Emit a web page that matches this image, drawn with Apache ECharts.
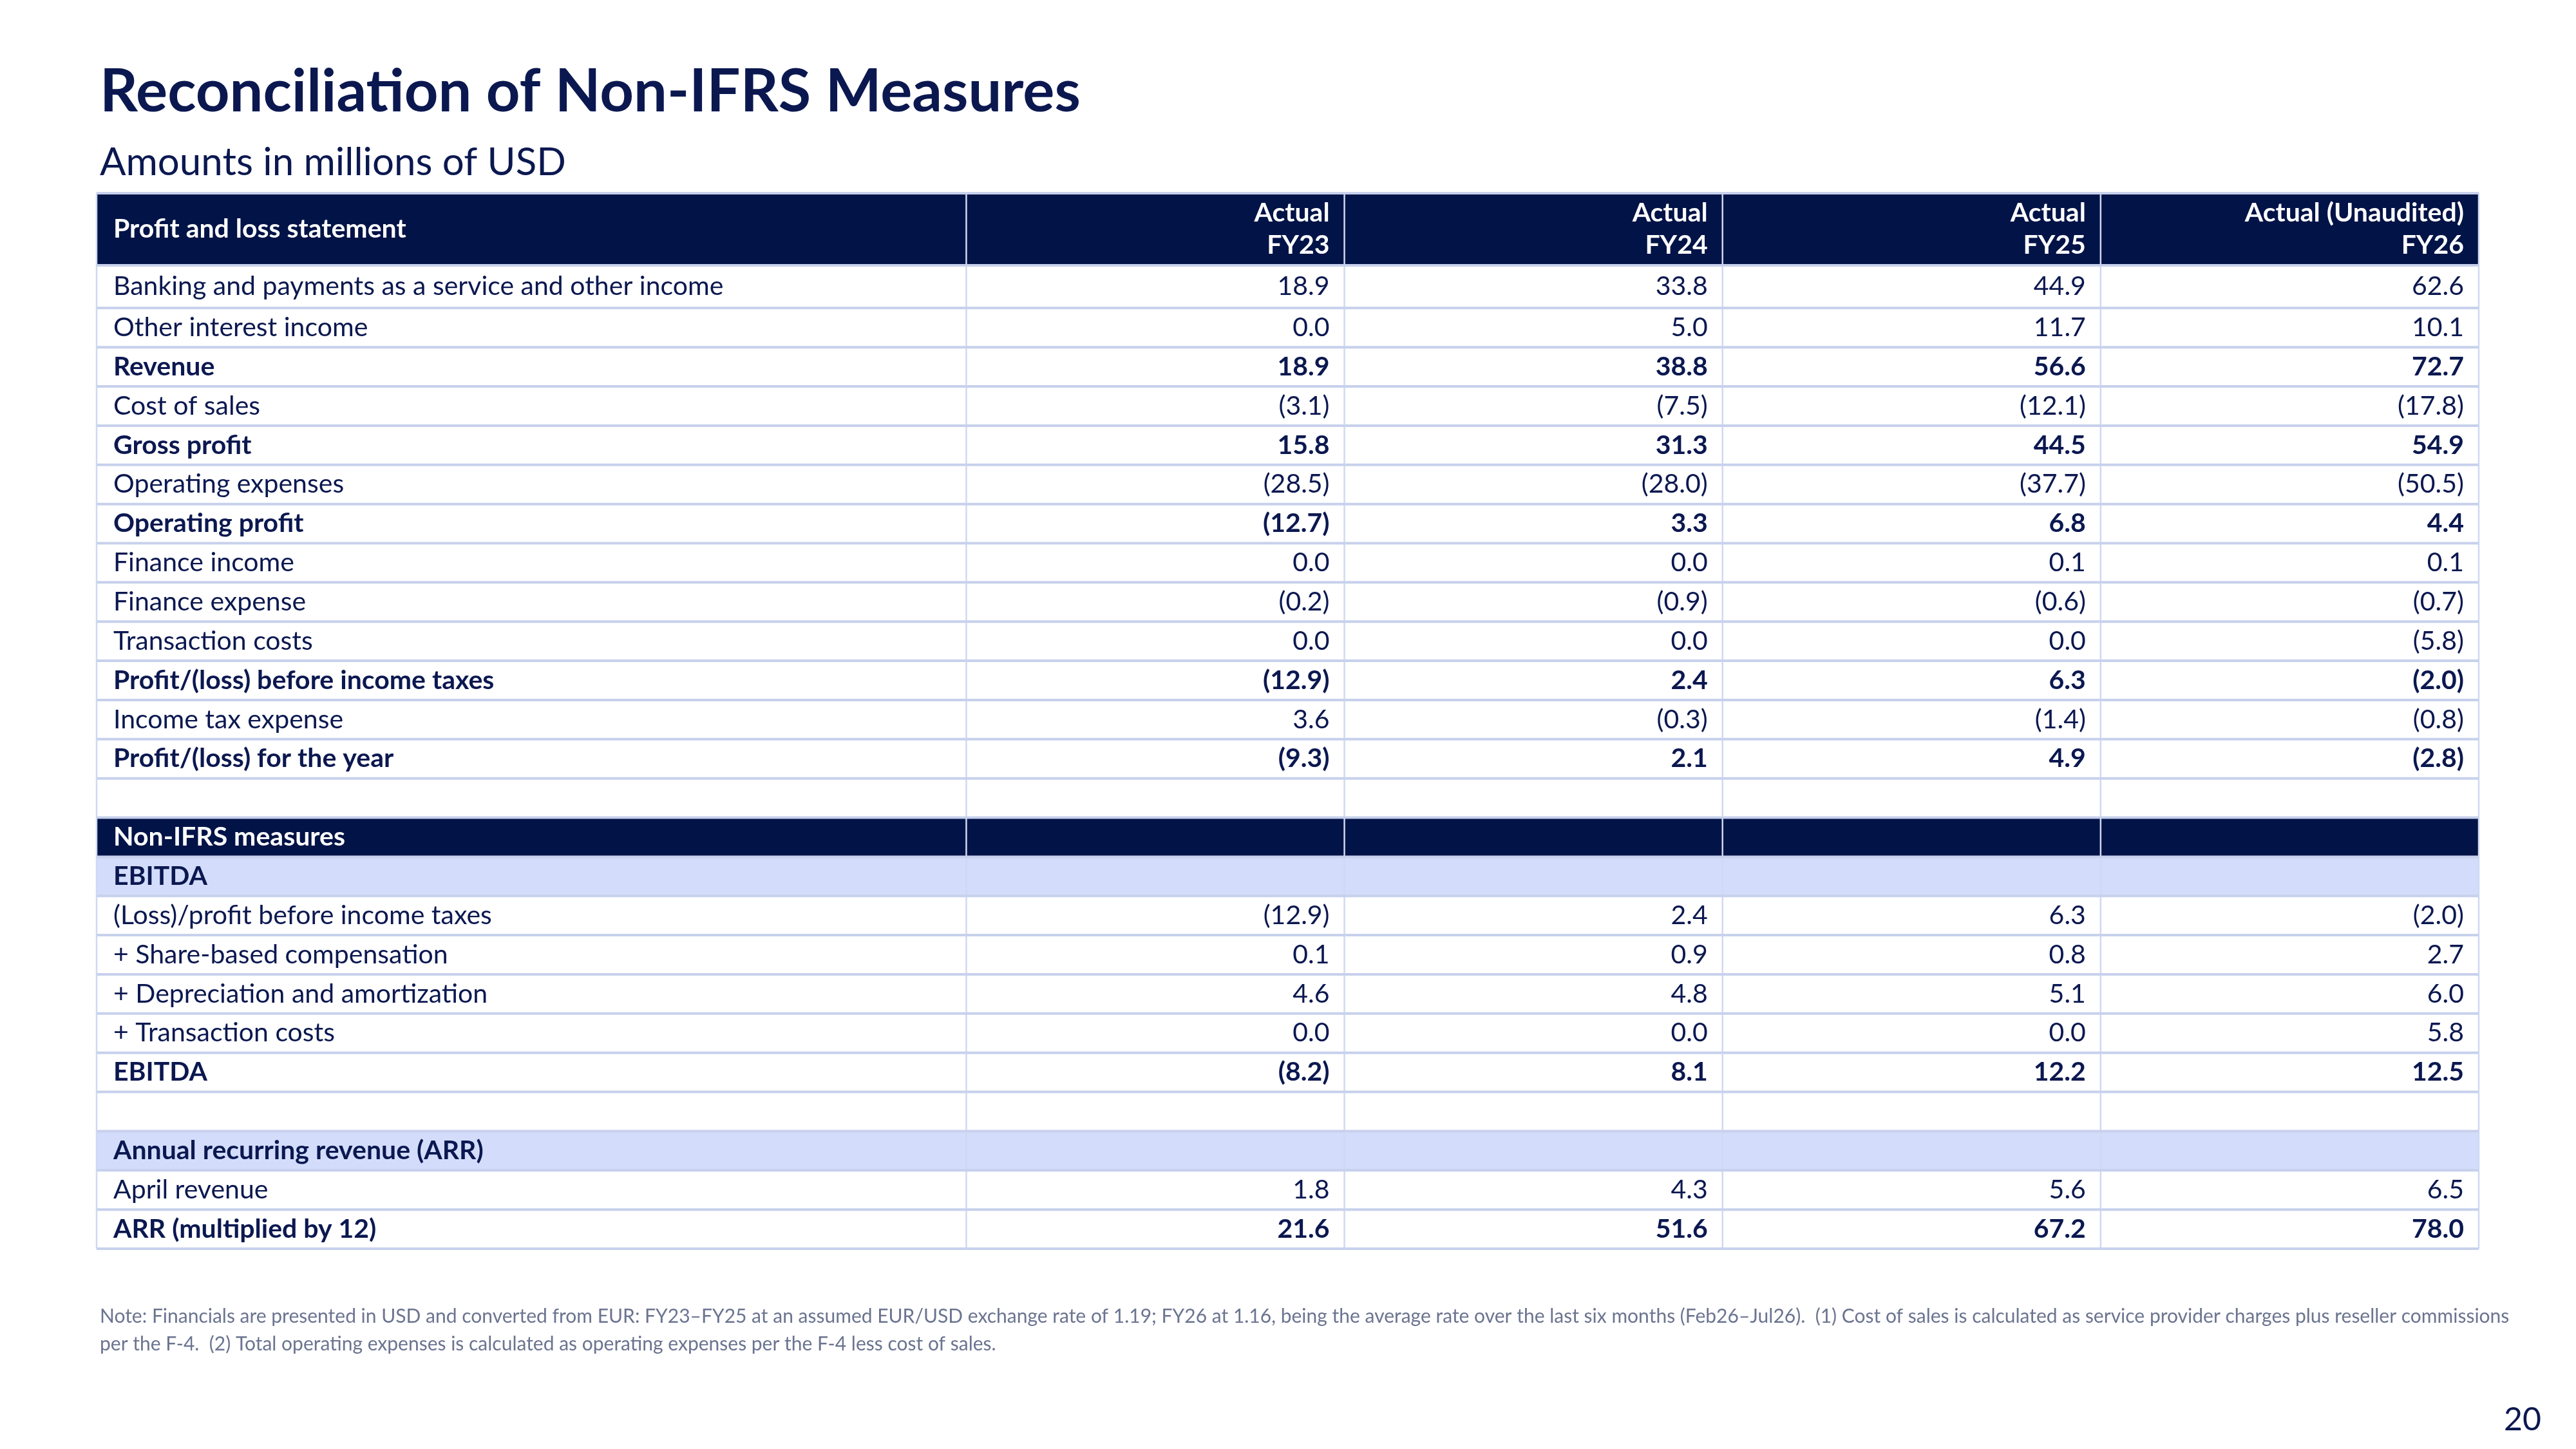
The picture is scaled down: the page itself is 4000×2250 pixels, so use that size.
<!DOCTYPE html>
<html>
<head>
<meta charset="utf-8">
<script src="https://cdn.jsdelivr.net/npm/echarts@6/dist/echarts.min.js"></script>
<style>
  html, body { margin: 0; padding: 0; background: #fff; }
  #main { width: 4000px; height: 2250px; }
</style>
</head>
<body>
<div id="main"></div>
<script>
// table content
var headLabel = 'Profit and loss statement';
var columnHeads = ['Actual\nFY23', 'Actual\nFY24', 'Actual\nFY25', 'Actual (Unaudited)\nFY26'];
var rowLabels = [
  'Banking and payments as a service and other income',
  'Other interest income',
  'Revenue',
  'Cost of sales',
  'Gross profit',
  'Operating expenses',
  'Operating profit',
  'Finance income',
  'Finance expense',
  'Transaction costs',
  'Profit/(loss) before income taxes',
  'Income tax expense',
  'Profit/(loss) for the year',
  '',
  'Non-IFRS measures',
  'EBITDA',
  '(Loss)/profit before income taxes',
  '+ Share-based compensation',
  '+ Depreciation and amortization',
  '+ Transaction costs',
  'EBITDA',
  '',
  'Annual recurring revenue (ARR)',
  'April revenue',
  'ARR (multiplied by 12)'
];
// item / total / blank / section / group
var rowKinds = [
  'item', 'item', 'total', 'item', 'total', 'item', 'total', 'item', 'item', 'item', 'total', 'item', 'total',
  'blank', 'section', 'group', 'item', 'item', 'item', 'item', 'total', 'blank', 'group', 'item', 'total'
];
var fy23 = [18.9, 0.0, 18.9, -3.1, 15.8, -28.5, -12.7, 0.0, -0.2, 0.0, -12.9, 3.6, -9.3, null, null, null, -12.9, 0.1, 4.6, 0.0, -8.2, null, null, 1.8, 21.6];
var fy24 = [33.8, 5.0, 38.8, -7.5, 31.3, -28.0, 3.3, 0.0, -0.9, 0.0, 2.4, -0.3, 2.1, null, null, null, 2.4, 0.9, 4.8, 0.0, 8.1, null, null, 4.3, 51.6];
var fy25 = [44.9, 11.7, 56.6, -12.1, 44.5, -37.7, 6.8, 0.1, -0.6, 0.0, 6.3, -1.4, 4.9, null, null, null, 6.3, 0.8, 5.1, 0.0, 12.2, null, null, 5.6, 67.2];
var fy26 = [62.6, 10.1, 72.7, -17.8, 54.9, -50.5, 4.4, 0.1, -0.7, -5.8, -2.0, -0.8, -2.8, null, null, null, -2.0, 2.7, 6.0, 5.8, 12.5, null, null, 6.5, 78.0];
var yearValues = [fy23, fy24, fy25, fy26];

var noteText = 'Note: Financials are presented in USD and converted from EUR: FY23\u2013FY25 at an assumed EUR/USD exchange rate of 1.19; FY26 at 1.16, being the average rate over the last six months (Feb26\u2013Jul26).  (1) Cost of sales is calculated as service provider charges plus reseller commissions\n' +
  'per the F-4.  (2) Total operating expenses is calculated as operating expenses per the F-4 less cost of sales.';

var NAVY = '#011347';
var TEXT = '#0b1850';
var LIGHT = '#d3ddfb';
var FONT = 'Lato';

// layout in axis units: label column is 2.3 wide, each year column 1
var LABEL_W = 2.3;
var rowHeights = [1.84, 1.09];
for (var i = 1; i < rowLabels.length; i++) rowHeights.push(1);
var rowTops = [0];
for (var i = 0; i < rowHeights.length; i++) rowTops.push(rowTops[i] + rowHeights[i]);

function fmt(v) {
  if (v === null || v === undefined) return '';
  return v < 0 ? '(' + Math.abs(v).toFixed(1) + ')' : v.toFixed(1);
}

var cells = [];
for (var r = 0; r <= rowLabels.length; r++) {
  for (var c = 0; c < 5; c++) cells.push([c, r]);
}

function renderCell(params, api) {
  var c = api.value(0), r = api.value(1);
  var x0 = c === 0 ? 0 : LABEL_W + c - 1;
  var x1 = c === 0 ? LABEL_W : LABEL_W + c;
  var p0 = api.coord([x0, rowTops[r]]);
  var p1 = api.coord([x1, rowTops[r + 1]]);
  var kind = r === 0 ? 'head' : rowKinds[r - 1];
  var fill = '#fff', color = TEXT, weight = 'normal';
  if (kind === 'head' || kind === 'section') { fill = NAVY; color = '#fff'; weight = 'bold'; }
  if (kind === 'group') { fill = LIGHT; weight = 'bold'; }
  if (kind === 'total') weight = 'bold';

  var txt;
  if (r === 0) txt = c === 0 ? headLabel : columnHeads[c - 1];
  else txt = c === 0 ? rowLabels[r - 1] : fmt(yearValues[c - 1][r - 1]);

  var children = [
    { type: 'rect', z2: 0, shape: { x: p0[0], y: p0[1], width: p1[0] - p0[0], height: p1[1] - p0[1] }, style: { fill: fill } },
    { type: 'line', z2: 10, shape: { x1: p0[0], y1: p1[1], x2: p1[0], y2: p1[1] }, style: { stroke: '#c7d1ec', lineWidth: 4 } },
    { type: 'line', z2: 9, shape: { x1: p1[0], y1: p0[1], x2: p1[0], y2: p1[1] }, style: { stroke: '#d0d9f1', lineWidth: 2.5 } },
    {
      type: 'text', z2: 20,
      style: {
        text: txt,
        x: c === 0 ? p0[0] + 26 : p1[0] - 23,
        y: (p0[1] + p1[1]) / 2,
        align: c === 0 ? 'left' : 'right',
        verticalAlign: 'middle',
        fill: color,
        font: weight + ' 41px ' + FONT,
        lineHeight: 50
      }
    }
  ];
  if (c === 0) children.push({ type: 'line', z2: 9, shape: { x1: p0[0], y1: p0[1], x2: p0[0], y2: p1[1] }, style: { stroke: '#d0d9f1', lineWidth: 2.5 } });
  if (r === 0) children.push({ type: 'line', z2: 10, shape: { x1: p0[0], y1: p0[1], x2: p1[0], y2: p0[1] }, style: { stroke: '#c7d1ec', lineWidth: 4 } });
  return { type: 'group', children: children };
}

var chart = echarts.init(document.getElementById('main'), null, { renderer: 'canvas' });
var option = {
  backgroundColor: '#fff',
  animation: false,
  title: [
    {
      text: 'Reconciliation of Non-IFRS Measures',
      left: 150, top: 88,
      textStyle: { fontFamily: FONT, fontWeight: 'bold', fontSize: 92, color: '#0b1850', lineHeight: 100 }
    },
    {
      text: 'Amounts in millions of USD',
      left: 150, top: 216,
      textStyle: { fontFamily: FONT, fontWeight: 'normal', fontSize: 60, color: '#0b1850', lineHeight: 64 }
    },
    {
      text: noteText,
      left: 150, top: 2018,
      textStyle: { fontFamily: FONT, fontWeight: 'normal', fontSize: 30, color: '#6b7490', lineHeight: 43 }
    },
    {
      text: '20',
      right: 49, top: 2174,
      textStyle: { fontFamily: FONT, fontWeight: 'normal', fontSize: 50, color: '#0b1850', lineHeight: 52 }
    }
  ],
  grid: { left: 150, right: 151, top: 300, bottom: 311 },
  xAxis: { type: 'value', min: 0, max: LABEL_W + 4, show: false },
  yAxis: { type: 'value', min: 0, max: rowTops[rowTops.length - 1], inverse: true, show: false },
  series: [{
    type: 'custom',
    clip: false,
    renderItem: renderCell,
    data: cells
  }]
};
chart.setOption(option);
</script>
</body>
</html>
